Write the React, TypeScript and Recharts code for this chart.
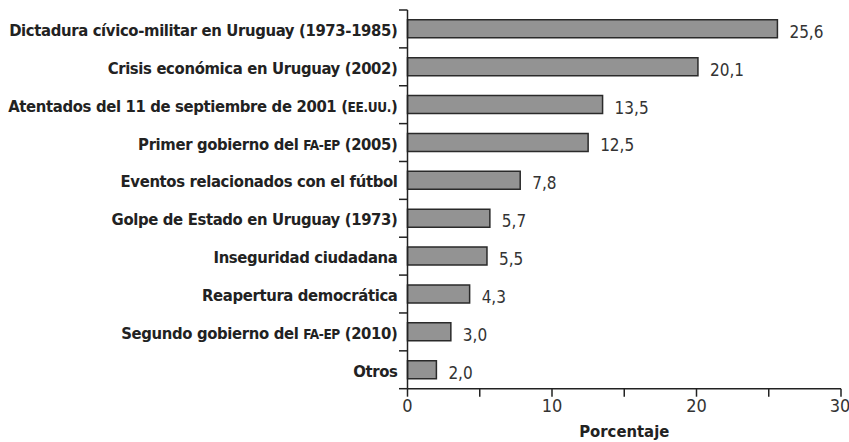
import React from 'react';
import { BarChart, Bar, XAxis, YAxis, LabelList } from 'recharts';

const categories = [
  'Dictadura cívico-militar en Uruguay (1973-1985)',
  'Crisis económica en Uruguay (2002)',
  'Atentados del 11 de septiembre de 2001 (EE.UU.)',
  'Primer gobierno del FA-EP (2005)',
  'Eventos relacionados con el fútbol',
  'Golpe de Estado en Uruguay (1973)',
  'Inseguridad ciudadana',
  'Reapertura democrática',
  'Segundo gobierno del FA-EP (2010)',
  'Otros',
];
const values = [25.6, 20.1, 13.5, 12.5, 7.8, 5.7, 5.5, 4.3, 3.0, 2.0];
const xTicks = [0, 5, 10, 15, 20, 25, 30];
const xTickLabels = ['0', '', '10', '', '20', '', '30'];
const xLabel = 'Porcentaje';
const smallCapsParts = /(EE\.UU\.|FA-EP)/;

const data = categories.map((c, i) => ({ name: c, value: values[i] }));

const FONT = '"DejaVu Sans Condensed", "DejaVu Sans", sans-serif';
const AXIS = '#222';

const CatTick = (props: any) => {
  const { x, y, payload, index } = props;
  const half = payload.offset || 0;
  const isLast = index === categories.length - 1;
  const parts = String(payload.value).split(smallCapsParts);
  return (
    <g>
      <line x1={x + 1.5} x2={x + 10} y1={y - half} y2={y - half} stroke={AXIS} strokeWidth={1.5} />
      {isLast && (
        <line x1={x + 1.5} x2={x + 10} y1={y + half} y2={y + half} stroke={AXIS} strokeWidth={1.5} />
      )}
      <text
        x={x}
        y={y}
        dy={7}
        textAnchor="end"
        fill="#222"
        fontSize={16.5}
        fontWeight="bold"
        fontFamily={FONT}
        letterSpacing={-0.35}
      >
        {parts.map((p, i) =>
          smallCapsParts.test(p) ? (
            <tspan key={i} fontSize={13.5}>{p}</tspan>
          ) : (
            <tspan key={i}>{p}</tspan>
          )
        )}
      </text>
    </g>
  );
};

const ValueLabel = (props: any) => {
  const { x, y, width, height, value } = props;
  return (
    <text
      x={x + width + 12}
      y={y + height / 2}
      dy={9}
      textAnchor="start"
      fill="#333"
      fontSize={17}
      fontFamily={FONT}
    >
      {Number(value).toFixed(1).replace('.', ',')}
    </text>
  );
};

export default function App() {
  return (
    <div style={{ position: 'absolute', left: 0, top: 0, width: 849, height: 442, overflow: 'hidden' }}>
      <BarChart
        width={849}
        height={442}
        data={data}
        layout="vertical"
        margin={{ top: 10, right: 8, bottom: 0, left: 0 }}
        barCategoryGap="26%"
      >
        <XAxis
          type="number"
          domain={[0, 30]}
          ticks={xTicks}
          tickFormatter={(v: number) => xTickLabels[xTicks.indexOf(v)]}
          tickSize={8}
          tickMargin={3}
          height={53.3}
          axisLine={{ stroke: AXIS, strokeWidth: 1.5 }}
          tickLine={{ stroke: AXIS, strokeWidth: 1.5 }}
          tick={{ fill: '#333', fontSize: 18, fontFamily: FONT }}
          label={{ value: xLabel, position: 'insideBottom', offset: 5, fill: '#222', fontSize: 16.5, fontWeight: 'bold', fontFamily: FONT }}
        />
        <YAxis
          type="category"
          dataKey="name"
          width={407.5}
          axisLine={{ stroke: AXIS, strokeWidth: 1.5 }}
          tickLine={false}
          tickSize={0}
          tickMargin={10}
          interval={0}
          tick={CatTick}
        />
        <Bar
          dataKey="value"
          fill="#939393"
          stroke="#2a2a2a"
          strokeWidth={1.5}
          isAnimationActive={false}
        >
          <LabelList dataKey="value" content={ValueLabel} />
        </Bar>
      </BarChart>
    </div>
  );
}
